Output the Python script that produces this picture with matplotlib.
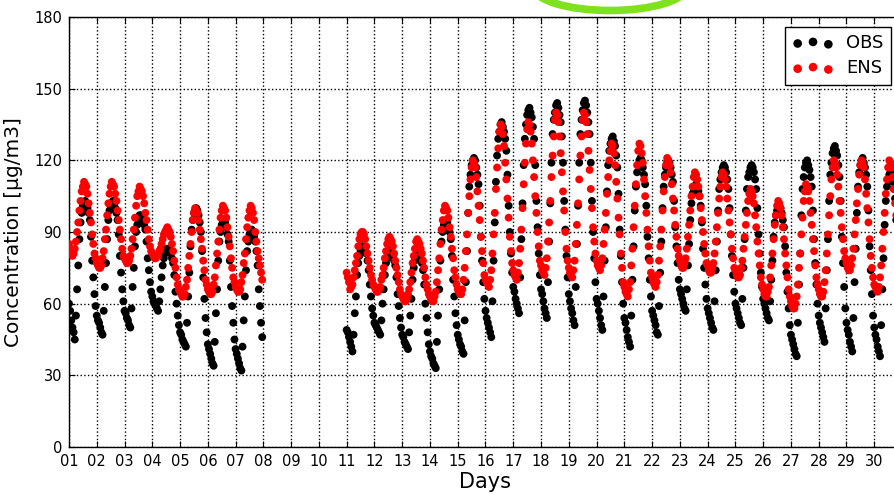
# OBS vs ENS hourly concentration, one month
import numpy as np
import matplotlib
matplotlib.use('Agg')
import matplotlib.pyplot as plt
from matplotlib.patches import Ellipse

# days that have data (08-10 missing)
days = [1, 2, 3, 4, 5, 6, 7, 11, 12, 13, 14, 15, 16, 17, 18, 19, 20,
        21, 22, 23, 24, 25, 26, 27, 28, 29, 30]

# hourly observed values, one list per day
obs = [
    [60, 57, 53, 50, 48, 45, 55, 66, 76, 87, 94, 98, 101, 102, 103, 102, 100, 98, 95, 88, 78, 71, 64, 59],
    [55, 53, 52, 50, 48, 47, 57, 67, 77, 87, 95, 99, 101, 102, 103, 102, 100, 98, 95, 89, 80, 73, 66, 61],
    [57, 56, 54, 53, 51, 50, 58, 67, 75, 84, 90, 93, 95, 97, 97, 96, 95, 93, 91, 86, 79, 74, 69, 65],
    [63, 61, 60, 59, 58, 57, 61, 66, 71, 76, 79, 81, 82, 83, 83, 82, 81, 79, 77, 72, 65, 60, 55, 51],
    [48, 47, 45, 44, 43, 42, 52, 63, 73, 84, 91, 95, 98, 99, 100, 99, 97, 94, 90, 82, 71, 62, 54, 48],
    [43, 41, 39, 37, 35, 34, 44, 56, 66, 78, 86, 90, 93, 94, 95, 94, 92, 89, 86, 78, 67, 59, 52, 45],
    [41, 39, 37, 35, 33, 32, 42, 53, 63, 74, 82, 86, 89, 90, 91, 90, 88, 86, 82, 76, 66, 59, 52, 46],
    [49, 48, 46, 44, 42, 40, 47, 56, 63, 72, 77, 80, 82, 84, 84, 83, 82, 81, 78, 74, 68, 63, 58, 55],
    [52, 51, 50, 49, 48, 47, 53, 60, 66, 72, 77, 79, 81, 82, 82, 81, 80, 78, 76, 71, 64, 59, 54, 50],
    [47, 46, 44, 43, 42, 41, 48, 55, 62, 70, 75, 78, 79, 81, 81, 80, 79, 77, 74, 68, 60, 54, 48, 43],
    [40, 38, 37, 35, 34, 33, 44, 55, 66, 78, 86, 90, 93, 94, 95, 94, 92, 90, 87, 80, 70, 63, 56, 51],
    [47, 45, 43, 42, 40, 39, 53, 69, 82, 98, 109, 114, 118, 120, 121, 120, 117, 114, 110, 101, 88, 78, 69, 62],
    [57, 54, 52, 50, 48, 46, 61, 78, 94, 111, 122, 129, 132, 135, 136, 134, 132, 129, 124, 114, 101, 90, 81, 73],
    [67, 65, 62, 60, 58, 56, 71, 87, 102, 118, 129, 135, 139, 141, 142, 140, 138, 134, 129, 118, 103, 92, 81, 72],
    [66, 64, 61, 58, 56, 54, 69, 86, 102, 119, 131, 137, 140, 143, 144, 142, 139, 136, 130, 119, 103, 91, 80, 71],
    [64, 61, 58, 56, 53, 51, 67, 85, 101, 119, 131, 137, 141, 144, 145, 143, 140, 136, 131, 119, 103, 90, 79, 69],
    [62, 60, 57, 54, 51, 49, 63, 78, 92, 107, 118, 124, 127, 129, 130, 128, 126, 122, 117, 106, 91, 80, 69, 60],
    [54, 52, 49, 46, 44, 42, 55, 70, 84, 99, 109, 115, 118, 120, 121, 120, 117, 114, 110, 101, 88, 79, 70, 63],
    [57, 55, 53, 51, 48, 47, 59, 73, 86, 100, 109, 114, 117, 119, 120, 119, 117, 114, 111, 103, 92, 84, 77, 70],
    [66, 64, 62, 60, 58, 57, 66, 76, 85, 95, 102, 106, 108, 109, 110, 109, 107, 105, 101, 94, 83, 75, 68, 62],
    [58, 56, 54, 52, 50, 49, 61, 74, 86, 99, 108, 112, 115, 117, 118, 117, 115, 112, 108, 100, 89, 80, 72, 65],
    [60, 58, 56, 54, 52, 51, 62, 75, 87, 99, 108, 113, 115, 117, 118, 117, 115, 112, 108, 100, 89, 81, 73, 67],
    [62, 60, 58, 56, 54, 53, 61, 70, 78, 88, 94, 97, 99, 100, 101, 100, 98, 95, 92, 84, 73, 65, 58, 51],
    [47, 45, 43, 41, 39, 38, 52, 68, 81, 97, 108, 113, 117, 119, 120, 118, 116, 113, 109, 99, 87, 77, 68, 60],
    [55, 52, 50, 48, 46, 44, 58, 74, 87, 103, 114, 119, 123, 125, 126, 124, 122, 118, 113, 103, 88, 77, 67, 58],
    [52, 49, 47, 44, 42, 40, 54, 69, 83, 98, 109, 115, 118, 120, 121, 119, 117, 114, 109, 99, 84, 74, 64, 55],
    [50, 47, 45, 42, 40, 38, 51, 66, 79, 93, 103, 109, 112, 114, 115, 114, 111, 108, 104, 95],
]

# hourly ensemble values, one list per day
ens = [
    [85, 83, 81, 80, 81, 83, 86, 90, 94, 99, 103, 107, 109, 111, 110, 109, 106, 102, 98, 94, 89, 85, 81, 79],
    [77, 76, 75, 75, 76, 79, 82, 87, 91, 97, 102, 106, 109, 111, 110, 109, 106, 103, 99, 95, 91, 87, 83, 80],
    [79, 78, 77, 77, 78, 80, 83, 87, 91, 96, 101, 105, 107, 109, 108, 107, 105, 102, 98, 95, 91, 87, 84, 82],
    [81, 80, 79, 79, 80, 80, 82, 83, 85, 87, 89, 90, 91, 92, 91, 90, 88, 85, 82, 78, 75, 71, 68, 66],
    [65, 64, 63, 63, 64, 67, 70, 75, 80, 85, 90, 95, 98, 100, 99, 98, 95, 91, 87, 83, 78, 74, 70, 68],
    [66, 65, 64, 64, 65, 68, 71, 76, 81, 86, 91, 96, 99, 101, 100, 99, 96, 92, 88, 84, 79, 75, 71, 69],
    [67, 66, 65, 65, 66, 69, 72, 77, 81, 87, 92, 96, 99, 101, 100, 98, 95, 90, 86, 82, 79, 76, 73, 70],
    [73, 71, 69, 66, 67, 68, 71, 74, 77, 80, 84, 87, 89, 90, 90, 89, 87, 84, 81, 78, 75, 72, 70, 68],
    [67, 66, 65, 65, 66, 67, 70, 72, 75, 79, 82, 85, 87, 88, 87, 86, 84, 81, 78, 75, 72, 69, 66, 64],
    [63, 62, 61, 61, 62, 64, 66, 69, 73, 77, 80, 83, 86, 87, 86, 85, 83, 81, 78, 75, 71, 68, 66, 64],
    [63, 62, 61, 61, 63, 65, 69, 74, 79, 85, 91, 95, 99, 101, 100, 99, 96, 92, 88, 83, 79, 74, 71, 68],
    [66, 65, 64, 64, 66, 70, 75, 82, 89, 98, 105, 112, 117, 120, 119, 117, 113, 107, 101, 95, 88, 82, 77, 72],
    [70, 69, 68, 67, 70, 74, 81, 89, 98, 108, 117, 125, 132, 135, 134, 131, 126, 119, 112, 104, 96, 88, 82, 77],
    [74, 72, 71, 70, 73, 77, 83, 91, 100, 110, 119, 127, 133, 136, 135, 132, 127, 120, 113, 105, 98, 90, 84, 78],
    [76, 74, 73, 72, 75, 79, 86, 94, 103, 113, 122, 130, 137, 140, 139, 136, 130, 123, 115, 107, 99, 90, 83, 78],
    [75, 73, 72, 71, 74, 78, 85, 93, 102, 112, 122, 130, 137, 140, 139, 136, 131, 124, 116, 108, 100, 92, 86, 81],
    [78, 76, 75, 74, 76, 79, 85, 91, 98, 106, 113, 120, 124, 127, 126, 123, 118, 111, 104, 96, 89, 81, 75, 69],
    [67, 65, 64, 63, 66, 69, 76, 83, 92, 101, 110, 118, 124, 127, 126, 123, 119, 112, 105, 98, 91, 84, 78, 73],
    [71, 69, 68, 67, 69, 72, 78, 84, 91, 99, 107, 113, 118, 121, 120, 118, 115, 110, 104, 99, 93, 88, 83, 80],
    [78, 76, 75, 75, 77, 79, 83, 88, 93, 99, 105, 109, 113, 115, 114, 112, 109, 105, 100, 95, 90, 85, 81, 77],
    [76, 74, 73, 73, 75, 77, 81, 86, 92, 98, 104, 109, 113, 115, 114, 112, 109, 104, 99, 94, 89, 83, 79, 75],
    [74, 72, 71, 71, 72, 75, 78, 83, 88, 93, 98, 103, 106, 108, 107, 105, 102, 97, 92, 86, 81, 76, 71, 68],
    [66, 64, 63, 63, 65, 67, 71, 76, 81, 87, 93, 97, 101, 103, 102, 100, 97, 92, 87, 81, 76, 71, 66, 63],
    [61, 59, 58, 58, 60, 63, 68, 75, 81, 89, 96, 103, 107, 110, 109, 107, 103, 98, 93, 87, 82, 76, 71, 68],
    [66, 64, 63, 63, 65, 69, 74, 81, 89, 97, 105, 112, 117, 120, 119, 117, 114, 109, 103, 98, 92, 87, 82, 79],
    [77, 75, 74, 74, 76, 79, 83, 89, 95, 102, 108, 114, 118, 120, 119, 117, 112, 106, 100, 94, 87, 80, 75, 71],
    [68, 67, 66, 65, 67, 71, 76, 83, 90, 98, 106, 112, 117, 120, 119, 117, 113, 108, 102, 97],
]

tick_days = list(range(1, 31))
tick_labels = ['%02d' % d for d in tick_days]
y_ticks = [0, 30, 60, 90, 120, 150, 180]


def day_times(day, n):
    # hourly timestamps inside one day, in day units
    return day + np.arange(n) / 24.0


t_obs = np.concatenate([day_times(d, len(v)) for d, v in zip(days, obs)])
v_obs = np.concatenate([np.array(v, dtype=float) for v in obs])
t_ens = np.concatenate([day_times(d, len(v)) for d, v in zip(days, ens)])
v_ens = np.concatenate([np.array(v, dtype=float) for v in ens])

W, H = 895, 494
fig = plt.figure(figsize=(W / 100.0, H / 100.0), dpi=100)
ax = fig.add_axes([69.0 / W, 47.0 / H, 833.0 / W, 430.0 / H])

h_obs = ax.scatter(t_obs, v_obs, s=32, c='k', edgecolors='none', zorder=3)
h_ens = ax.scatter(t_ens, v_ens, s=32, c='#ff0000', edgecolors='none', zorder=4)

ax.set_xlim(1, 31)
ax.set_ylim(0, 180)
ax.set_xticks(tick_days)
ax.set_xticklabels(tick_labels)
ax.set_yticks(y_ticks)
ax.tick_params(direction='in', top=True, right=True, length=4, labelsize=10.5, pad=5)
ax.grid(True, linestyle=':', color='k', linewidth=1)
ax.set_axisbelow(True)
for sp in ax.spines.values():
    sp.set_linewidth(1.0)

ax.set_xlabel('Days', fontsize=15, labelpad=2)
ax.set_ylabel('Concentration [\u00b5g/m3]', fontsize=14.5, labelpad=8)

leg = ax.legend([h_obs, h_ens], ['OBS', 'ENS'], loc='upper right',
                bbox_to_anchor=(891.0 / W, 1 - 27.0 / H), bbox_transform=fig.transFigure,
                borderaxespad=0, scatterpoints=3, scatteryoffsets=[0.375, 0.5, 0.3125],
                fontsize=13, fancybox=False, framealpha=1, edgecolor='k',
                handlelength=2.3, labelspacing=0.4, borderpad=0.4, handletextpad=0.7,
                markerscale=1.1)
leg.get_frame().set_linewidth(1.0)

# green highlight ellipse at the top edge
ell = Ellipse((610.0 / W, 1 + 13.0 / H), 153.0 / W, 47.0 / H, transform=fig.transFigure,
              fill=False, edgecolor='#80e21c', linewidth=5.5, clip_on=False)
fig.add_artist(ell)

fig.savefig('out.png', dpi=100)
